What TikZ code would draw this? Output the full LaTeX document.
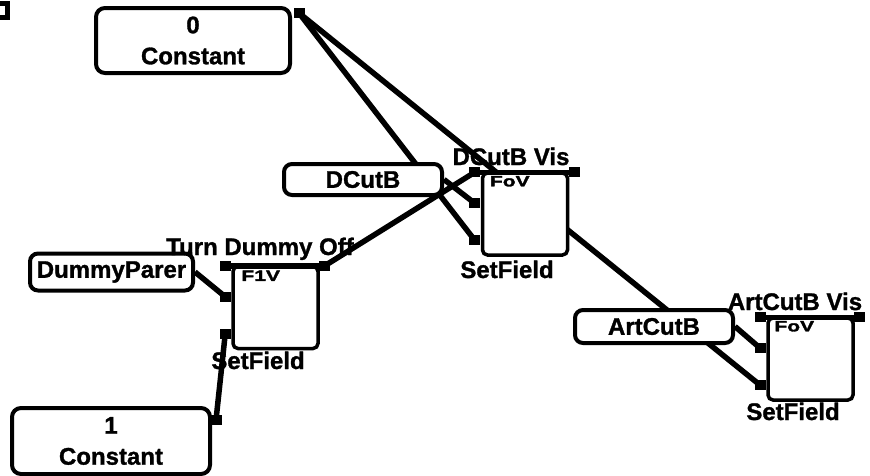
\documentclass[tikz,border=0pt]{standalone}
\usepackage{fontspec}
\setmainfont{Liberation Sans}[BoldFeatures={FakeBold=1.2}]
\newfontfamily\tagfont{Liberation Sans}[FakeStretch=1.4,BoldFeatures={FakeBold=2}]
\usetikzlibrary{calc,positioning}
\pgfdeclarelayer{wires}
\pgfsetlayers{wires,main}

\tikzset{
  valbox/.style={draw,line width=4pt,rounded corners=9pt,fill=white,inner sep=0pt,align=center},
  fieldbox/.style={draw,line width=3.5pt,rounded corners=5pt,fill=white,minimum width=85pt,minimum height=82pt},
  port/.style={fill=black,inner sep=0pt,minimum width=11pt,minimum height=10pt},
  wire/.style={line width=5.5pt},
  bar/.style={line width=5.5pt},
  tag/.style={font=\tagfont\bfseries\fontsize{15}{15}\selectfont,anchor=west,inner sep=0pt},
  blocklbl/.style={anchor=base,inner sep=0pt}
}

\begin{document}
\begin{tikzpicture}[x=1pt,y=-1pt,font=\bfseries\fontsize{24}{31}\selectfont]
\useasboundingbox (0,0) rectangle (870,475);
% corner icon
\draw[line width=5pt] (-6,3) rectangle (7,17);

% values
\node[valbox,minimum width=194pt,minimum height=65pt] (const0) at (193,40.5) {0\\Constant};
\node[valbox,minimum width=198pt,minimum height=66pt] (const1) at (111,441) {1\\Constant};
\node[valbox,minimum width=158pt,minimum height=31pt,rounded corners=8pt] (dcutb) at (363,179.5) {DCutB};
\node[valbox,minimum width=163pt,minimum height=37pt,rounded corners=8pt] (dummy) at (111.5,272) {DummyParer};
\node[valbox,minimum width=158pt,minimum height=33pt,rounded corners=8pt] (artcutb) at (654,326.5) {ArtCutB};
\node[port] (const0-out) at ($(const0.north east)+(7,7)$) {};
\node[port] (const1-out) at ($(const1.north east)+(4,14)$) {};

% setfield blocks
\node[fieldbox] (sf1) at (275.5,307.5) {};
\node[fieldbox] (sf2) at (525,214) {};
\node[fieldbox] (sf3) at (810.5,359) {};
\foreach \b in {sf1,sf2,sf3}{
  \node[port] (\b-in1) at ($(\b.north west)+(-6,1)$) {};
  \node[port] (\b-out) at ($(\b.north east)+(5,1)$) {};
  \node[port] (\b-in2) at ($(\b.north west)+(-6,32)$) {};
  \node[port] (\b-in3) at ($(\b.north west)+(-6,69)$) {};
  \draw[bar] (\b-in1.center) -- (\b-out.center);
}
\node[tag] (sf1-tag) at ($(sf1.north west)+(10,11)$) {F1V};
\node[tag] (sf2-tag) at ($(sf2.north west)+(9,10)$) {FoV};
\node[tag] (sf3-tag) at ($(sf3.north west)+(8,10)$) {FoV};

\node[blocklbl] (sf1-name) at (260,255) {Turn Dummy Off};
\node[blocklbl] (sf1-kind) at (258,369) {SetField};
\node[blocklbl] (sf2-name) at (511,165) {DCutB Vis};
\node[blocklbl] (sf2-kind) at (507,278) {SetField};
\node[blocklbl] (sf3-name) at (795,310) {ArtCutB Vis};
\node[blocklbl] (sf3-kind) at (793,420) {SetField};

% connectors
\begin{pgfonlayer}{wires}
\draw[wire] (const0-out.center) -- (sf2-in3.center);
\draw[wire] (const0-out.center) -- (sf3-in3.center);
\draw[wire] (dcutb.east) -- (sf2-in2.center);
\draw[wire] (sf1-out.center) -- (sf2-in1.center);
\draw[wire] (dummy.east) -- (sf1-in2.center);
\draw[wire] (const1-out.center) -- (sf1-in3.center);
\draw[wire] (artcutb.east) -- (sf3-in2.center);
\end{pgfonlayer}
\end{tikzpicture}
\end{document}
